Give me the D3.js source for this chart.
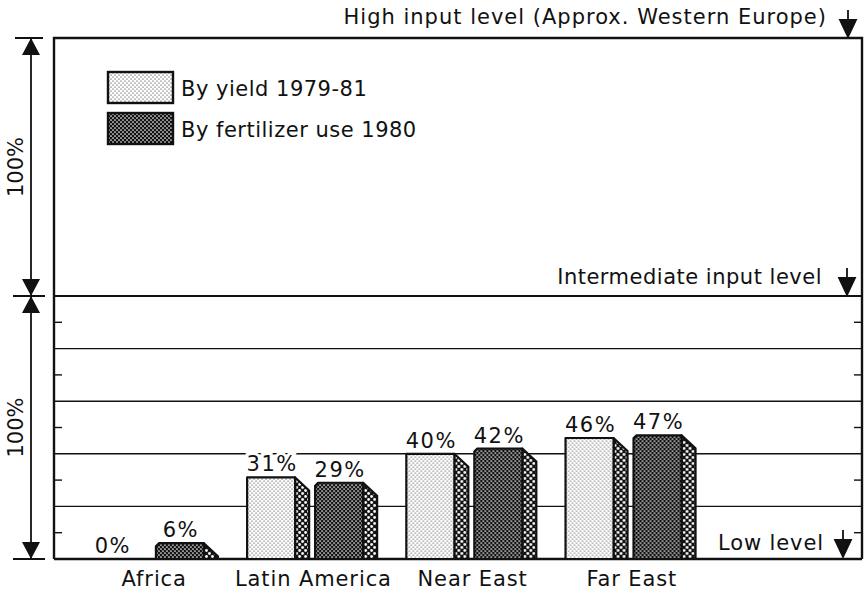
<!DOCTYPE html>
<html>
<head>
<meta charset="utf-8">
<script src="https://cdn.jsdelivr.net/npm/d3@7"></script>
<style>
  html, body { margin: 0; padding: 0; background: #fff; }
  svg { display: block; }
  text { font-family: "DejaVu Sans", "Liberation Sans", sans-serif; fill: #111; }
</style>
</head>
<body>
<svg id="chart" width="866" height="591"></svg>
<script>
// ---- data ----
const categories = ["Africa", "Latin America", "Near East", "Far East"];
const seriesKeys = ["yield", "fert"];
const seriesNames = ["By yield 1979-81", "By fertilizer use 1980"];
const yieldValues = [0, 31, 40, 46];
const fertilizerValues = [6, 29, 42, 47];
const gridValues = [20, 40, 60, 80];
const minorTickValues = [10, 30, 50, 70, 90];
const levelNames = ["High input level (Approx. Western Europe)", "Intermediate input level", "Low level"];
const levelValues = [200, 100, 0];
const spanLabels = ["100%", "100%"];
const spanRanges = [[100, 200], [0, 100]];

// ---- layout ----
const left = 54, right = 862;
const svg = d3.select("#chart");
const y = d3.scaleLinear().domain([0, 100, 200]).range([559, 296, 38]);
const x = d3.scaleBand().domain(categories).range([72, 712]).paddingInner(0.18).paddingOuter(0.1);
const x1 = d3.scaleBand().domain(seriesKeys).range([0, 116]).paddingInner(0.294);
const depthX = 14, depthY = 13;
const FS = 21;

// ---- patterns ----
const defs = svg.append("defs");
const p1 = defs.append("pattern").attr("id", "patYield").attr("patternUnits", "userSpaceOnUse").attr("width", 4).attr("height", 4);
p1.append("rect").attr("width", 4).attr("height", 4).attr("fill", "#fff");
p1.append("circle").attr("cx", 1).attr("cy", 1).attr("r", 0.6).attr("fill", "#111");
p1.append("circle").attr("cx", 3).attr("cy", 3).attr("r", 0.6).attr("fill", "#111");
const p2 = defs.append("pattern").attr("id", "patFert").attr("patternUnits", "userSpaceOnUse").attr("width", 4).attr("height", 4);
p2.append("rect").attr("width", 4).attr("height", 4).attr("fill", "#111");
p2.append("circle").attr("cx", 1).attr("cy", 1).attr("r", 0.85).attr("fill", "#fff");
p2.append("circle").attr("cx", 3).attr("cy", 3).attr("r", 0.85).attr("fill", "#fff");
const p3 = defs.append("pattern").attr("id", "patSide").attr("patternUnits", "userSpaceOnUse").attr("width", 6).attr("height", 6);
p3.append("rect").attr("width", 6).attr("height", 6).attr("fill", "#111");
p3.append("circle").attr("cx", 1.5).attr("cy", 1.5).attr("r", 1.4).attr("fill", "#fff");
p3.append("circle").attr("cx", 4.5).attr("cy", 4.5).attr("r", 1.4).attr("fill", "#fff");
const patFor = { yield: "url(#patYield)", fert: "url(#patFert)" };

// ---- gridlines ----
svg.append("g").selectAll("line").data(gridValues).join("line")
  .attr("x1", left).attr("x2", right).attr("y1", d => y(d)).attr("y2", d => y(d))
  .attr("stroke", "#111").attr("stroke-width", 1.4);
svg.append("line").attr("x1", left).attr("x2", right).attr("y1", y(100)).attr("y2", y(100))
  .attr("stroke", "#111").attr("stroke-width", 2);

// minor ticks left and right
const tk = svg.append("g");
tk.selectAll(".tl").data(minorTickValues).join("line")
  .attr("x1", left).attr("x2", left + 8).attr("y1", d => y(d)).attr("y2", d => y(d))
  .attr("stroke", "#111").attr("stroke-width", 1.4);
tk.selectAll(".tr").data(minorTickValues).join("line")
  .attr("x1", right - 8).attr("x2", right).attr("y1", d => y(d)).attr("y2", d => y(d))
  .attr("stroke", "#111").attr("stroke-width", 1.4);

// frame
svg.append("path")
  .attr("d", `M${left},${y(0)} V${y(200)} H${right} V${y(0)}`)
  .attr("fill", "none").attr("stroke", "#111").attr("stroke-width", 2.4);
svg.append("line").attr("x1", left).attr("x2", right).attr("y1", y(0)).attr("y2", y(0))
  .attr("stroke", "#111").attr("stroke-width", 2.4);

// ---- bars ----
const rows = categories.map((c, i) => ({ cat: c, vals: [
  { key: "yield", v: yieldValues[i] }, { key: "fert", v: fertilizerValues[i] } ] }));
const groups = svg.append("g").selectAll("g").data(rows).join("g")
  .attr("transform", d => `translate(${x(d.cat)},0)`);
const bars = groups.selectAll("g").data(d => d.vals).join("g");
bars.filter(d => d.v > 0).append("path")
  .attr("d", d => {
    const x0 = x1(d.key) + x1.bandwidth(), top = y(d.v), base = y(0);
    const dy = Math.min(depthY, base - top);
    return `M${x0},${top} L${x0 + depthX},${top + dy} V${base} H${x0} Z`;
  })
  .attr("fill", "url(#patSide)").attr("stroke", "#111").attr("stroke-width", 2.2).attr("stroke-linejoin", "round");
bars.filter(d => d.v > 0).append("path")
  .attr("d", d => {
    const x0 = x1(d.key), w = x1.bandwidth(), top = y(d.v), base = y(0);
    const c = d.key === "fert" ? 3 : 0;
    return `M${x0},${base} V${top + c} L${x0 + c},${top} H${x0 + w} V${base} Z`;
  })
  .attr("fill", d => patFor[d.key]).attr("stroke", "#111").attr("stroke-width", 2.2).attr("stroke-linejoin", "round");

// value labels
bars.append("text")
  .attr("x", d => x1(d.key) + x1.bandwidth() / 2 + 1)
  .attr("y", d => y(d.v) - 6)
  .attr("text-anchor", "middle").attr("font-size", FS).attr("letter-spacing", "1.5px")
  .attr("stroke", "#fff").attr("stroke-width", 6).attr("paint-order", "stroke")
  .text(d => d.v + "%");

// category labels
svg.append("g").selectAll("text").data(categories).join("text")
  .attr("x", d => x(d) + x.bandwidth() / 2 + 1)
  .attr("y", 586)
  .attr("text-anchor", "middle").attr("font-size", FS).attr("letter-spacing", "0.9px")
  .text(d => d);

// ---- legend ----
const lg = svg.append("g").selectAll("g").data(seriesKeys).join("g")
  .attr("transform", (d, i) => `translate(108,${72 + i * 41})`);
lg.append("rect").attr("width", 65).attr("height", 31)
  .attr("fill", d => patFor[d]).attr("stroke", "#111").attr("stroke-width", 2.4);
lg.append("text").attr("x", 73).attr("y", 23.5).attr("font-size", FS).attr("letter-spacing", "0.5px")
  .text((d, i) => seriesNames[i]);

// ---- level labels with down arrows ----
const arrowX = [848, 847, 843];
const levelBaseline = [24, 284, 550];
const levelEnd = [827, 822, 824];
const levelSpacing = ["1px", "0.5px", "0.9px"];
const lv = svg.append("g").selectAll("g").data(levelNames).join("g");
lv.append("text")
  .attr("x", (d, i) => levelEnd[i]).attr("y", (d, i) => levelBaseline[i])
  .attr("text-anchor", "end").attr("font-size", FS).attr("letter-spacing", (d, i) => levelSpacing[i])
  .text(d => d);
lv.append("path")
  .attr("d", (d, i) => {
    const tip = y(levelValues[i]) - (i === 2 ? 2 : 1), ax = arrowX[i];
    return `M${ax},${tip - 27} V${tip - 16} M${ax - 8},${tip - 17} L${ax + 8},${tip - 17} L${ax},${tip} Z`;
  })
  .attr("fill", "#111").attr("stroke", "#111").attr("stroke-width", 1.8);

// ---- left dimension arrows ----
const dimX = 31;
const dim = svg.append("g");
dim.selectAll("line.ext").data([200, 100, 0]).join("line")
  .attr("x1", d => d === 200 ? 15 : 13).attr("x2", d => d === 200 ? 43 : 45)
  .attr("y1", d => y(d)).attr("y2", d => y(d))
  .attr("stroke", "#111").attr("stroke-width", 2);
const spans = dim.selectAll("g.span").data(spanRanges).join("g");
spans.append("line").attr("x1", dimX).attr("x2", dimX)
  .attr("y1", d => y(d[1])).attr("y2", d => y(d[0]))
  .attr("stroke", "#111").attr("stroke-width", 1.8);
spans.append("path")
  .attr("d", d => {
    const t = y(d[1]), b = y(d[0]);
    return `M${dimX},${t} L${dimX - 9},${t + 17} L${dimX + 9},${t + 17} Z M${dimX},${b} L${dimX - 9},${b - 17} L${dimX + 9},${b - 17} Z`;
  })
  .attr("fill", "#111");
spans.append("text")
  .attr("transform", d => `translate(23,${(y(d[0]) + y(d[1])) / 2}) rotate(-90)`)
  .attr("text-anchor", "middle").attr("font-size", FS)
  .text((d, i) => spanLabels[i]);
</script>
</body>
</html>
